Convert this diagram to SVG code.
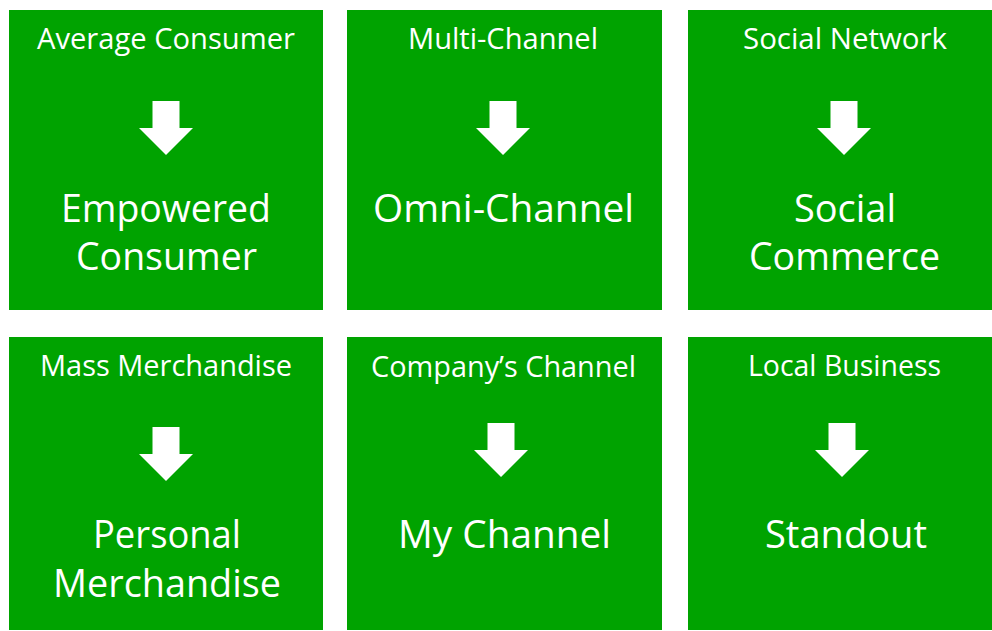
<svg xmlns="http://www.w3.org/2000/svg" width="992" height="631" viewBox="0 0 992 631">
<defs>
<style>
.tile{fill:#00a300}
.small{font-family:"Open Sans","Noto Sans",sans-serif;font-size:28.5px;fill:#ffffff;text-anchor:middle}
.big{font-family:"Open Sans","Noto Sans",sans-serif;font-size:37.5px;fill:#ffffff;text-anchor:middle}
.arrow{fill:#ffffff}
</style>
<path id="arr" d="M-13.5,0 H13.5 V27 H27 L0,54 L-27,27 H-13.5 Z"/>
</defs>
<rect width="992" height="631" fill="#ffffff"/>
<g id="tile-empowered-consumer">
<rect class="tile" x="9" y="10" width="314" height="300"/>
<text class="small" x="166" y="49" textLength="258" lengthAdjust="spacingAndGlyphs">Average Consumer</text>
<use href="#arr" class="arrow" x="166" y="101"/>
<text class="big" x="166" y="222" textLength="210" lengthAdjust="spacingAndGlyphs">Empowered</text>
<text class="big" x="166.5" y="270" textLength="181" lengthAdjust="spacingAndGlyphs">Consumer</text>
</g>
<g id="tile-omni-channel">
<rect class="tile" x="347" y="10" width="315" height="300"/>
<text class="small" x="503" y="49" textLength="190" lengthAdjust="spacingAndGlyphs">Multi-Channel</text>
<use href="#arr" class="arrow" x="503" y="101"/>
<text class="big" x="503.5" y="222" textLength="261" lengthAdjust="spacingAndGlyphs">Omni-Channel</text>
</g>
<g id="tile-social-commerce">
<rect class="tile" x="688" y="10" width="304" height="300"/>
<text class="small" x="845" y="49" textLength="204" lengthAdjust="spacingAndGlyphs">Social Network</text>
<use href="#arr" class="arrow" x="844" y="101"/>
<text class="big" x="845" y="222" textLength="102" lengthAdjust="spacingAndGlyphs">Social</text>
<text class="big" x="844.5" y="270" textLength="191" lengthAdjust="spacingAndGlyphs">Commerce</text>
</g>
<g id="tile-personal-merchandise">
<rect class="tile" x="9" y="337" width="314" height="293"/>
<text class="small" x="166" y="376" textLength="252" lengthAdjust="spacingAndGlyphs">Mass Merchandise</text>
<use href="#arr" class="arrow" x="166" y="427"/>
<text class="big" x="167" y="548" textLength="148" lengthAdjust="spacingAndGlyphs">Personal</text>
<text class="big" x="167" y="597" textLength="228" lengthAdjust="spacingAndGlyphs">Merchandise</text>
</g>
<g id="tile-my-channel">
<rect class="tile" x="347" y="337" width="315" height="293"/>
<text class="small" x="503.5" y="377" textLength="265" lengthAdjust="spacingAndGlyphs">Company’s Channel</text>
<use href="#arr" class="arrow" x="501" y="423"/>
<text class="big" x="504.5" y="548" textLength="213" lengthAdjust="spacingAndGlyphs">My Channel</text>
</g>
<g id="tile-standout">
<rect class="tile" x="688" y="337" width="304" height="293"/>
<text class="small" x="844.5" y="376" textLength="193" lengthAdjust="spacingAndGlyphs">Local Business</text>
<use href="#arr" class="arrow" x="842" y="423"/>
<text class="big" x="846" y="548" textLength="162" lengthAdjust="spacingAndGlyphs">Standout</text>
</g>
<g id="connectors"></g>
</svg>
